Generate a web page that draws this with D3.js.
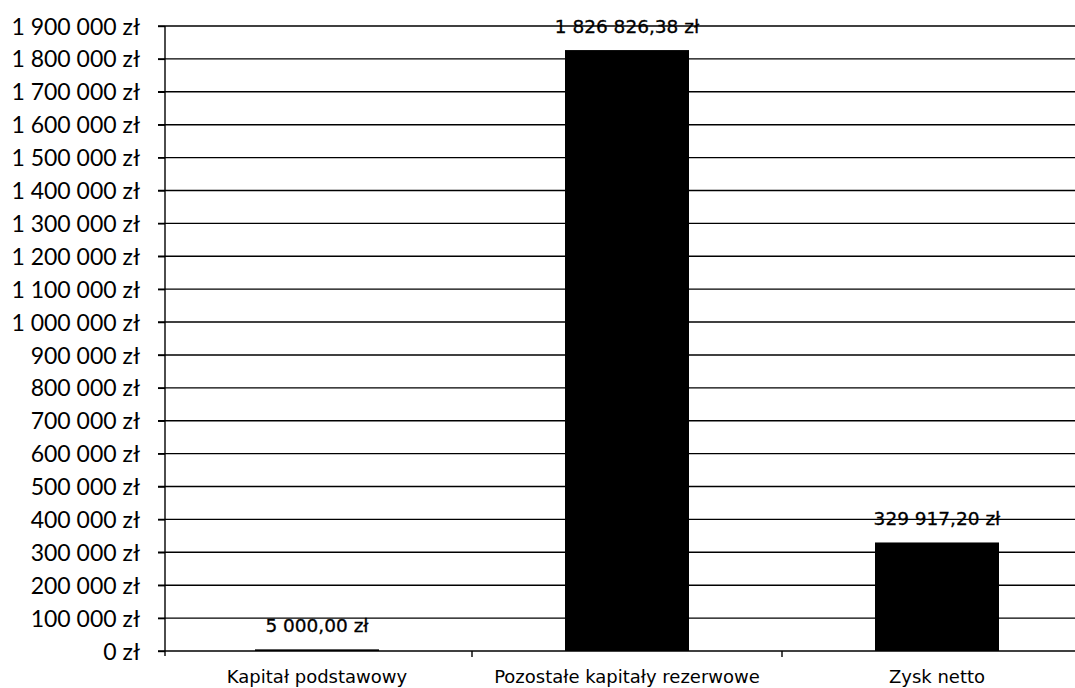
<!DOCTYPE html>
<html><head><meta charset="utf-8">
<script src="https://cdn.jsdelivr.net/npm/d3@7"></script>
<style>html,body{margin:0;padding:0;background:#fff;}svg{display:block;}</style>
</head><body>
<script>
const categories = ["Kapitał podstawowy", "Pozostałe kapitały rezerwowe", "Zysk netto"];
const values = [5000.00, 1826826.38, 329917.20];
const valueLabels = ["5 000,00 zł", "1 826 826,38 zł", "329 917,20 zł"];
const yTicks = [0,100000,200000,300000,400000,500000,600000,700000,800000,900000,1000000,1100000,1200000,1300000,1400000,1500000,1600000,1700000,1800000,1900000];
const yTickLabels = ["0 zł","100 000 zł","200 000 zł","300 000 zł","400 000 zł","500 000 zł","600 000 zł","700 000 zł","800 000 zł","900 000 zł","1 000 000 zł","1 100 000 zł","1 200 000 zł","1 300 000 zł","1 400 000 zł","1 500 000 zł","1 600 000 zł","1 700 000 zł","1 800 000 zł","1 900 000 zł"];

const W = 1075, H = 688;
const svg = d3.select("body").append("svg").attr("width", W).attr("height", H);
const x = d3.scaleBand().domain(categories).range([162, 1092]).paddingInner(0.6).paddingOuter(0.3);
const y = d3.scaleLinear().domain([0, 1900000]).range([651, 26]);

// gridlines
svg.append("g").selectAll("line").data(yTicks).join("line")
  .attr("x1", 158).attr("x2", W).attr("y1", d => y(d)).attr("y2", d => y(d))
  .attr("stroke", "#000").attr("stroke-width", 1.4);

// y axis
const yAxis = d3.axisLeft(y).tickValues(yTicks).tickFormat((d,i) => yTickLabels[i]).tickSize(7).tickPadding(18);
const gy = svg.append("g").attr("transform", "translate(165,0)").call(yAxis);
gy.select(".domain").attr("stroke", "#000").attr("stroke-width", 1.4).attr("d", "M0,26V656");
gy.selectAll(".tick line").attr("stroke-width", 1.4);
gy.selectAll("text").attr("font-family", "Lato, 'Open Sans', sans-serif").attr("font-size", 23).attr("fill", "#000").attr("dy", "0.35em");

// category boundary ticks
const bounds = [1, 2].map(i => x(categories[i]) - x.bandwidth() * 0.75);
svg.append("g").selectAll("line").data(bounds).join("line")
  .attr("x1", d => d).attr("x2", d => d).attr("y1", 651).attr("y2", 657)
  .attr("stroke", "#000").attr("stroke-width", 1.4);

// bars
svg.append("g").selectAll("rect").data(values).join("rect")
  .attr("x", (d,i) => x(categories[i])).attr("width", x.bandwidth())
  .attr("y", d => y(d)).attr("height", d => y(0) - y(d)).attr("fill", "#000");

// value labels
svg.append("g").selectAll("text").data(values).join("text")
  .attr("x", (d,i) => x(categories[i]) + x.bandwidth()/2)
  .attr("y", d => y(d) - 24).attr("dy", "0.35em")
  .attr("text-anchor", "middle")
  .attr("font-family", "'DejaVu Sans', sans-serif")
  .attr("font-size", 18.5).attr("fill", "#000")
  .attr("stroke", "#000").attr("stroke-width", 0.3)
  .text((d,i) => valueLabels[i]);

// category labels
svg.append("g").selectAll("text").data(categories).join("text")
  .attr("x", d => x(d) + x.bandwidth()/2).attr("y", 683)
  .attr("text-anchor", "middle")
  .attr("font-family", "'DejaVu Sans', sans-serif")
  .attr("font-size", 18).attr("fill", "#000")
  .text(d => d);
</script>
</body></html>
